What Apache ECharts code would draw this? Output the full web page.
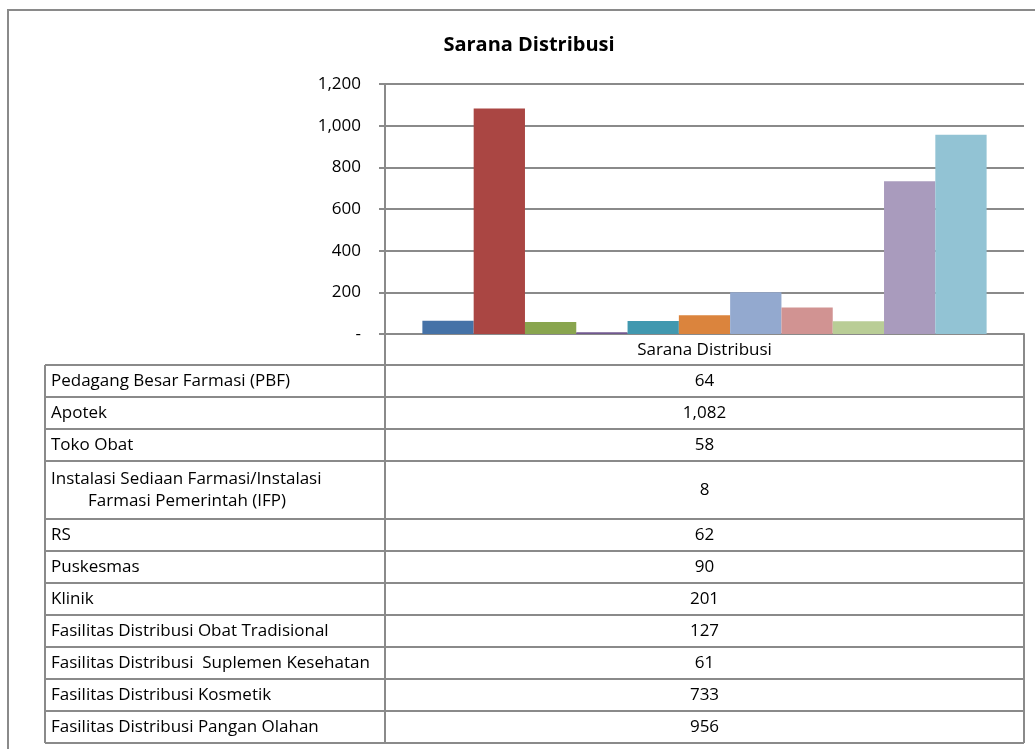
<!DOCTYPE html>
<html>
<head>
<meta charset="utf-8">
<script src="https://cdn.jsdelivr.net/npm/echarts@6/dist/echarts.min.js"></script>
<style>
  html, body { margin: 0; padding: 0; background: #fff; }
  #chart { width: 1035px; height: 749px; }
</style>
</head>
<body>
<div id="chart"></div>
<script>
// ---- data ----
const title = 'Sarana Distribusi';
const category = 'Sarana Distribusi';
const seriesNames = [
  'Pedagang Besar Farmasi (PBF)',
  'Apotek',
  'Toko Obat',
  'Instalasi Sediaan Farmasi/Instalasi\nFarmasi Pemerintah (IFP)',
  'RS',
  'Puskesmas',
  'Klinik',
  'Fasilitas Distribusi Obat Tradisional',
  'Fasilitas Distribusi  Suplemen Kesehatan',
  'Fasilitas Distribusi Kosmetik',
  'Fasilitas Distribusi Pangan Olahan'
];
const seriesValues = [64, 1082, 58, 8, 62, 90, 201, 127, 61, 733, 956];
const seriesColors = ['#4572A7', '#AA4643', '#89A54E', '#71588F', '#4198AF', '#DB843D',
                      '#93A9CF', '#D19392', '#B9CD96', '#A99BBD', '#92C3D4'];
const yTicks = [0, 200, 400, 600, 800, 1000, 1200];

// ---- layout ----
const FONT = 'Open Sans';
const FS = 17;
const gridL = 385, gridT = 84, gridW = 639, gridH = 250;
const gridR = gridL + gridW, gridB = gridT + gridH;
const tableL = 45, headerB = 365, rowH = 32, rowH2 = 58, lineGap = 22;
const lineColor = '#8a8a8a';

const fmt = v => v === 0 ? '-' : v.toLocaleString('en-US');

const chart = echarts.init(document.getElementById('chart'));

// table graphic
const graphics = [];
// outer chart border
graphics.push({ type: 'rect', shape: { x: 8, y: 10, width: 1200, height: 900 },
  style: { fill: 'none', stroke: lineColor, lineWidth: 2 }, silent: true });

const font = FS + 'px "' + FONT + '"';
let y = headerB;
const rowTops = [];
seriesNames.forEach((name, i) => {
  const lines = name.split('\n');
  const h = lines.length > 1 ? rowH2 : rowH;
  rowTops.push(y);
  const cy = y + h / 2;
  lines.forEach((ln, k) => {
    graphics.push({ type: 'text', x: tableL + 6 + (k > 0 ? 37 : 0), y: cy + (k - (lines.length - 1) / 2) * lineGap,
      style: { text: ln, font: font, fill: '#000', verticalAlign: 'middle', align: 'left' } });
  });
  graphics.push({ type: 'text', x: (gridL + gridR) / 2, y: cy,
    style: { text: fmt(seriesValues[i]), font: font, fill: '#000', verticalAlign: 'middle', align: 'center' } });
  y += h;
});
const tableB = y;
rowTops.push(tableB);
rowTops.forEach(t => {
  graphics.push({ type: 'line', shape: { x1: tableL, y1: t, x2: gridR, y2: t },
    style: { stroke: lineColor, lineWidth: 2 }, silent: true });
});
[[tableL, headerB], [gridL, gridB], [gridR, gridB]].forEach(([x, y0]) => {
  graphics.push({ type: 'line', shape: { x1: x, y1: y0, x2: x, y2: tableB },
    style: { stroke: lineColor, lineWidth: 2 }, silent: true });
});

chart.setOption({
  animation: false,
  backgroundColor: '#fff',
  title: {
    text: title, left: 524, top: 30, textAlign: 'center',
    textStyle: { fontFamily: FONT, fontSize: 20, fontWeight: 'bold', color: '#000' }
  },
  grid: { left: gridL, top: gridT, width: gridW, height: gridH, containLabel: false },
  xAxis: {
    type: 'category', data: [category],
    axisLine: { show: true, lineStyle: { color: lineColor, width: 2 } },
    axisTick: { show: false },
    axisLabel: { margin: 8, fontFamily: FONT, fontSize: FS, color: '#000' },
    splitLine: { show: false }
  },
  yAxis: {
    type: 'value', min: yTicks[0], max: yTicks[yTicks.length - 1], interval: yTicks[1] - yTicks[0],
    axisLine: { show: true, lineStyle: { color: lineColor, width: 2 } },
    axisTick: { show: true, length: 6, lineStyle: { color: lineColor, width: 2 } },
    axisLabel: { margin: 24, fontFamily: FONT, fontSize: FS, color: '#000', formatter: fmt },
    splitLine: { show: true, lineStyle: { color: lineColor, width: 2 } }
  },
  series: seriesNames.map((n, i) => ({
    type: 'bar', name: n, data: [seriesValues[i]],
    barGap: '0%', barCategoryGap: '11.7%',
    itemStyle: { color: seriesColors[i] }
  })),
  graphic: graphics
});
</script>
</body>
</html>
